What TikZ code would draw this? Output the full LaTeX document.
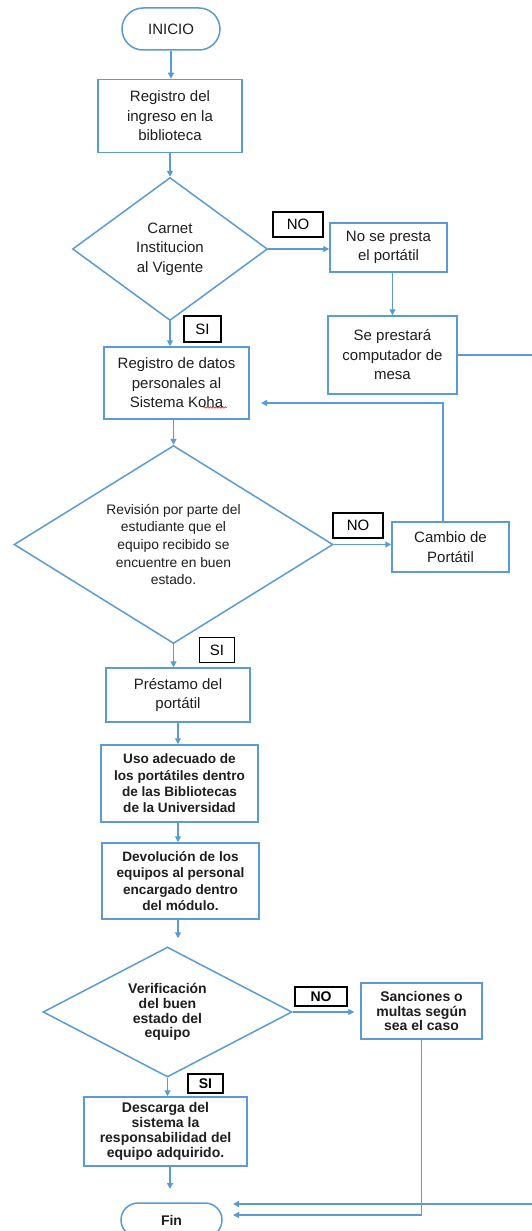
\documentclass[tikz,border=0pt]{standalone}
\usepackage{fontspec}
\setmainfont{Liberation Sans}
\usetikzlibrary{shapes.geometric,shapes.misc,arrows.meta,calc,decorations.pathmorphing}
\definecolor{flow}{HTML}{5B9BD5}
\definecolor{txt}{HTML}{1E1E1E}
\newcommand{\upf}{\fontsize{15}{19.5}\selectfont}
\newcommand{\smf}{\fontsize{13.8}{17.7}\selectfont}
\newcommand{\lof}{\fontsize{13.6}{16.4}\selectfont\bfseries}
\newcommand{\lofb}{\fontsize{14}{14.8}\selectfont\bfseries}
\tikzset{
  base/.style={draw=flow, line width=1.5pt, fill=white, text=txt, align=center, inner sep=0pt},
  procbox/.style={base, rectangle},
  termbox/.style={base, rounded rectangle},
  decbox/.style={base, diamond},
  lab/.style={draw=black, line width=1.1pt, fill=white, text=black, inner sep=0pt},
  conn/.style={draw=flow, line width=1.4pt},
  arr/.style={conn, -{Triangle[length=6pt,width=6pt]}}
}
\begin{document}
\begin{tikzpicture}[x=1pt,y=-1pt]
\useasboundingbox (0,0) rectangle (532,1231);
\clip (0,0) rectangle (532,1231);
% nodes
\node[termbox, minimum width=98, minimum height=42, font=\upf] (inicio) at (171,29) {INICIO};
\node[procbox, minimum width=144, minimum height=73, font=\upf] (b1) at (170,116) {Registro del\\ingreso en la\\biblioteca};
\node[decbox, minimum width=195, minimum height=143, aspect=1.36, font=\upf] (d1) at (170,249) {Carnet\\Institucion\\al Vigente};
\node[lab, minimum width=50, minimum height=25, font=\upf] (no1) at (298,224.5) {NO};
\node[procbox, minimum width=117, minimum height=49, font=\upf] (b2) at (388.5,247.5) {No se presta\\el portátil};
\node[procbox, minimum width=129, minimum height=78, font=\upf] (b3) at (392.5,355) {Se prestará\\computador de\\mesa};
\node[lab, minimum width=37, minimum height=26, font=\upf] (si1) at (202.5,329) {SI};
\node[procbox, minimum width=145, minimum height=72, font=\upf] (b4) at (176.5,383) {Registro de datos\\personales al\\Sistema Koha};
\node[decbox, minimum width=319, minimum height=198, aspect=1.61, font=\smf] (d2) at (173.5,544.5) {Revisión por parte del\\estudiante que el\\equipo recibido se\\encuentre en buen\\estado.};
\node[lab, minimum width=50, minimum height=25, font=\upf] (no2) at (358,525.5) {NO};
\node[procbox, minimum width=117, minimum height=50, font=\upf] (cam) at (450.5,547) {Cambio de\\Portátil};
\node[lab, minimum width=35, minimum height=25, font=\upf] (si2) at (217,650) {SI};
\node[procbox, minimum width=144, minimum height=54, font=\upf] (b5) at (178,695) {Préstamo del\\portátil};
\node[procbox, minimum width=157, minimum height=77, font=\lof] (b6) at (179.5,783.5) {Uso adecuado de\\los portátiles dentro\\de las Bibliotecas\\de la Universidad};
\node[procbox, minimum width=157, minimum height=76, font=\lof] (b7) at (180.5,881) {Devolución de los\\equipos al personal\\encargado dentro\\del módulo.};
\node[decbox, minimum width=249, minimum height=130, aspect=1.9, font=\lofb] (d3) at (167.5,1012) {Verificación\\del buen\\estado del\\equipo};
\node[lab, minimum width=52, minimum height=19, font=\lofb] (no3) at (321,996.5) {NO};
\node[procbox, minimum width=121, minimum height=56, font=\lofb] (san) at (421.5,1011) {Sanciones o\\multas según\\sea el caso};
\node[lab, minimum width=35, minimum height=19, font=\lofb] (si3) at (205.5,1083.5) {SI};
\node[procbox, minimum width=163, minimum height=69, font=\lofb] (b8) at (165.5,1131.5) {Descarga del\\sistema la\\responsabilidad del\\equipo adquirido.};
\node[termbox, minimum width=101, minimum height=34, font=\lofb] (fin) at (171.5,1220) {Fin};
% coordinates
\coordinate (kohaIn) at (261,403);
\coordinate (finA) at (233,1204);
\coordinate (finB) at (233,1215);
\coordinate (finTop) at (170,1189);
\coordinate (farR) at (545,0);
% connectors
\draw[arr] (inicio.south) -- (inicio.south |- b1.north);
\draw[arr] (b1.south) -- (d1.north);
\draw[arr] (d1.east) -- (b2.west |- d1.east);
\draw[arr] (b3.north |- b2.south) -- (b3.north);
\draw[arr] (b3.east) -- (b3.east -| farR) -- (finA -| farR) -- (finA);
\draw[arr] (d1.south) -- (d1.south |- b4.north);
\draw[arr] (b4.south -| d2.north) -- (d2.north);
\draw[arr] (d2.east) -- (cam.west |- d2.east);
\draw[arr] (cam.north -| 443,0) -- (kohaIn -| 443,0) -- (kohaIn);
\draw[arr] (d2.south) -- (d2.south |- b5.north);
\draw[arr] (b5.south) -- (b5.south |- b6.north);
\draw[arr] (b6.south -| b5.south) -- (b5.south |- b7.north);
\draw[arr, shorten >=8pt] (b7.south -| b5.south) -- (b5.south |- d3.north);
\draw[arr, shorten >=6pt] (d3.east) -- (san.west |- d3.east);
\draw[arr] (san.south) -- (san.south |- finB) -- (finB);
\draw[arr] (d3.south) -- (d3.south |- b8.north);
\draw[arr] (b8.south -| finTop) -- (finTop);
% spell-check underline under "Koha"
\draw[red, line width=0.6pt, decorate, decoration={snake, amplitude=0.7pt, segment length=3pt}] ($(b4.center)+(27,24.5)$) -- ($(b4.center)+(50,24.5)$);
\end{tikzpicture}
\end{document}
